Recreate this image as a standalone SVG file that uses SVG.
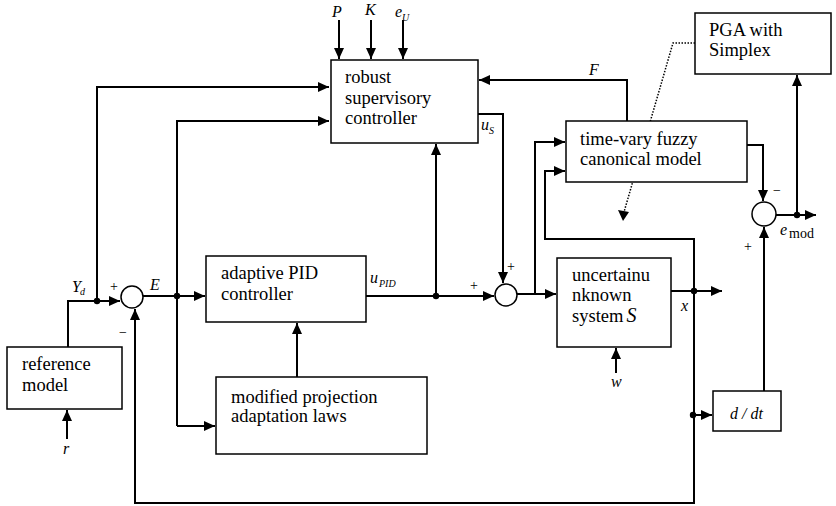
<svg xmlns="http://www.w3.org/2000/svg" width="836" height="506" viewBox="0 0 836 506">
<style>
.box{fill:#fff;stroke:#000;stroke-width:1.5}
.ln{fill:none;stroke:#000;stroke-width:2}
.dot{fill:#000}
text{font-family:'Liberation Serif','DejaVu Serif',serif;fill:#000}
.t{font-size:18.5px}
.lb{font-size:16px;font-style:italic}
.sub{font-size:10px;font-style:italic}
.sg{font-size:14px}
.dotted{fill:none;stroke:#000;stroke-width:1.5;stroke-dasharray:1.5 1.5}
</style>
<defs>
<marker id="ah" markerUnits="userSpaceOnUse" markerWidth="12" markerHeight="10" refX="11" refY="5" orient="auto">
<path d="M0,0 L11,5 L0,10 z" fill="#000"/>
</marker>
</defs>
<rect width="836" height="506" fill="#fff"/>

<g id="connectors">
<path class="ln" d="M339,20 V59" marker-end="url(#ah)"/>
<path class="ln" d="M371,20 V59" marker-end="url(#ah)"/>
<path class="ln" d="M403,20 V59" marker-end="url(#ah)"/>
<path class="ln" d="M97,301 V87 H329" marker-end="url(#ah)"/>
<path class="ln" d="M177,426 V121 H329" marker-end="url(#ah)"/>
<path class="ln" d="M68,347 V301 H120" marker-end="url(#ah)"/>
<path class="ln" d="M143,296 H205" marker-end="url(#ah)"/>
<path class="ln" d="M177,426 H215" marker-end="url(#ah)"/>
<path class="ln" d="M297,377 V323" marker-end="url(#ah)"/>
<path class="ln" d="M67,439 V410" marker-end="url(#ah)"/>
<path class="ln" d="M366,296 H494" marker-end="url(#ah)"/>
<path class="ln" d="M436,296 V144" marker-end="url(#ah)"/>
<path class="ln" d="M478,114 H503 V283" marker-end="url(#ah)"/>
<path class="ln" d="M627,121 V80 H479" marker-end="url(#ah)"/>
<path class="ln" d="M517,294 H556" marker-end="url(#ah)"/>
<path class="ln" d="M535,294 V142 H565" marker-end="url(#ah)"/>
<path class="ln" d="M694,291 V239 H545 V171 H565" marker-end="url(#ah)"/>
<path class="ln" d="M671,291 H722" marker-end="url(#ah)"/>
<path class="ln" d="M694,291 V503 H135 V309" marker-end="url(#ah)"/>
<path class="ln" d="M694,415 H712" marker-end="url(#ah)"/>
<path class="ln" d="M616,373 V348" marker-end="url(#ah)"/>
<path class="ln" d="M764,391 V227" marker-end="url(#ah)"/>
<path class="ln" d="M747,145 H763 V201" marker-end="url(#ah)"/>
<path class="ln" d="M776,215 H816" marker-end="url(#ah)"/>
<path class="ln" d="M797,215 V75" marker-end="url(#ah)"/>
<path class="dotted" d="M695,43 H673 L624,212"/>
<path d="M618,210 L623,221 L629,212 z" fill="#000"/>
<circle class="dot" cx="97" cy="301" r="3.2"/>
<circle class="dot" cx="177" cy="296" r="3.2"/>
<circle class="dot" cx="436" cy="296" r="3.2"/>
<circle class="dot" cx="694" cy="291" r="3.2"/>
<circle class="dot" cx="693" cy="415" r="3.2"/>
<circle class="dot" cx="797" cy="215" r="3.2"/>
</g>

<g id="robust">
<rect class="box" x="331" y="60" width="147" height="83"/>
<text class="t" x="345" y="83">robust</text>
<text class="t" x="345" y="104">supervisory</text>
<text class="t" x="345" y="124">controller</text>
</g>

<g id="pid">
<rect class="box" x="206" y="256" width="160" height="66"/>
<text class="t" x="221" y="279">adaptive PID</text>
<text class="t" x="221" y="300">controller</text>
</g>

<g id="reference">
<rect class="box" x="7" y="347" width="115" height="62"/>
<text class="t" x="22" y="370">reference</text>
<text class="t" x="22" y="391">model</text>
</g>

<g id="modified">
<rect class="box" x="216" y="377" width="211" height="77"/>
<text class="t" x="231" y="403">modified projection</text>
<text class="t" x="231" y="422">adaptation laws</text>
</g>

<g id="timevary">
<rect class="box" x="566" y="121" width="181" height="61"/>
<text class="t" x="580" y="145">time-vary fuzzy</text>
<text class="t" x="580" y="165">canonical model</text>
</g>

<g id="system">
<rect class="box" x="557" y="258" width="114" height="89"/>
<text class="t" x="572" y="281">uncertainu</text>
<text class="t" x="572" y="301">nknown</text>
<text class="t" x="572" y="322">system<tspan font-style="italic" font-size="20px" dx="3">S</tspan></text>
</g>

<g id="pga">
<rect class="box" x="695" y="13" width="136" height="61"/>
<text class="t" x="709" y="36">PGA with</text>
<text class="t" x="709" y="56">Simplex</text>
</g>

<g id="ddt">
<rect class="box" x="713" y="391" width="68" height="40"/>
<text class="lb" x="730" y="419" font-size="15px">d / dt</text>
</g>

<g id="sum1">
<circle class="box" cx="132" cy="297" r="11"/>
<text class="sg" x="110" y="291" font-size="18px">+</text>
<text class="sg" x="119" y="337" font-size="18px">−</text>
</g>

<g id="sum2">
<circle class="box" cx="506" cy="295" r="11"/>
<text class="sg" x="507" y="271" font-size="12px">+</text>
<text class="sg" x="470" y="290" font-size="12px">+</text>
</g>

<g id="sum3">
<circle class="box" cx="764" cy="214" r="12"/>
<text class="sg" x="773" y="195" font-size="12px">−</text>
<text class="sg" x="744" y="251" font-size="12px">+</text>
</g>

<g id="labels">
<text class="lb" x="332" y="17">P</text>
<text class="lb" x="365" y="15">K</text>
<text class="lb" x="395" y="17">e</text><text class="sub" x="402" y="21">U</text>
<text class="lb" x="72" y="292" font-size="14px">Y</text><text class="sub" x="80" y="295" font-size="8px">d</text>
<text class="lb" x="150" y="290" font-size="14px">E</text>
<text class="lb" x="370" y="283">u</text><text class="sub" x="379" y="287" font-size="9px">PID</text>
<text class="lb" x="481" y="130">u</text><text class="sub" x="489" y="134">S</text>
<text class="lb" x="589" y="75" font-size="15px">F</text>
<text class="lb" x="681" y="311" font-size="15px">x</text>
<text class="lb" x="611" y="387" font-size="15px">w</text>
<text class="lb" x="63" y="454" font-size="15px">r</text>
<text class="lb" x="780" y="235">e</text><text class="sg" x="789" y="238" font-size="10px">mod</text>
</g>
</svg>
